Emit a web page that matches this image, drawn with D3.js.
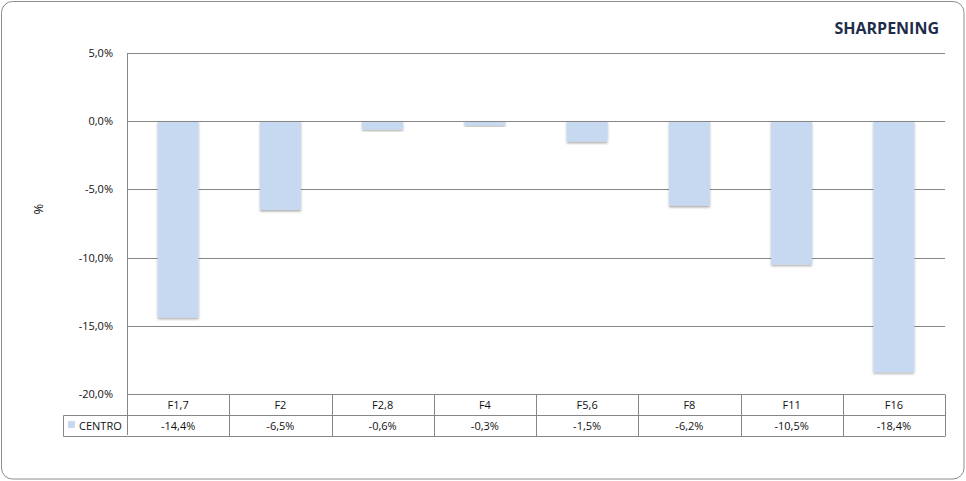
<!DOCTYPE html>
<html><head><meta charset="utf-8">
<script src="https://cdn.jsdelivr.net/npm/d3@7"></script>
<style>
html,body{margin:0;padding:0;background:#fff;}
text{font-family:"Open Sans",sans-serif;}
</style></head>
<body>
<svg id="c" width="966" height="481"></svg>
<script>
const categories = ["F1,7","F2","F2,8","F4","F5,6","F8","F11","F16"];
const seriesName = "CENTRO";
const values = [-14.4,-6.5,-0.6,-0.3,-1.5,-6.2,-10.5,-18.4];
const yTicks = [5,0,-5,-10,-15,-20];
const title = "SHARPENING";
const axisTitle = "%";

const fmt = v => d3.format(".1f")(v).replace(".", ",").replace("−","-") + "%";

const svg = d3.select("#c");
const W = 966, H = 481;
const plotL = 127, plotR = 945, plotT = 53, plotB = 394;
const rowH = 20.5, legendL = 63;
const barColor = "#C6D9F1", gridColor = "#868686", textColor = "#111";

const defs = svg.append("defs");
const f = defs.append("filter").attr("id","sh").attr("x","-20%").attr("y","-20%").attr("width","140%").attr("height","140%");
f.append("feDropShadow").attr("dx",0).attr("dy",1.5).attr("stdDeviation",0.8).attr("flood-color","#000").attr("flood-opacity",0.35);

// outer border
svg.append("rect").attr("x",1.5).attr("y",1.5).attr("width",W-3.5).attr("height",H-3.5)
  .attr("rx",11).attr("ry",11).attr("fill","#fff").attr("stroke","#8c8c8c").attr("stroke-width",1);

const x = d3.scaleBand().domain(categories).range([plotL, plotR]).padding(0);
const y = d3.scaleLinear().domain([-20,5]).range([plotB, plotT]);

// gridlines
svg.append("g").selectAll("line").data(yTicks).join("line")
  .attr("x1",plotL).attr("x2",plotR)
  .attr("y1",d=>Math.round(y(d))+0.5).attr("y2",d=>Math.round(y(d))+0.5)
  .attr("stroke",gridColor).attr("stroke-width",1);

// y tick labels
svg.append("g").selectAll("text").data(yTicks).join("text")
  .attr("x",113).attr("y",d=>y(d)+4)
  .attr("text-anchor","end").attr("font-size",11).attr("fill",textColor)
  .text(d=>fmt(d));

// axis title
svg.append("text").attr("transform","translate(42.5,209) rotate(-90)")
  .attr("text-anchor","middle").attr("font-size",13).attr("fill",textColor).text(axisTitle);

// bars
const bw = x.bandwidth()*0.4;
svg.append("g").selectAll("rect").data(values).join("rect")
  .attr("x",(d,i)=>x(categories[i]) + x.bandwidth()/2 - bw/2)
  .attr("y",d=>y(Math.max(0,d)))
  .attr("width",bw)
  .attr("height",d=>Math.abs(y(d)-y(0)))
  .attr("fill",barColor).attr("filter","url(#sh)");

// redraw zero line on top
svg.append("line").attr("x1",plotL).attr("x2",plotR)
  .attr("y1",Math.round(y(0))+0.5).attr("y2",Math.round(y(0))+0.5)
  .attr("stroke",gridColor);

// left axis line (plot + table)
svg.append("line").attr("x1",plotL+0.5).attr("x2",plotL+0.5)
  .attr("y1",plotT).attr("y2",plotB+2*rowH).attr("stroke",gridColor);

// table
const tY0 = Math.round(plotB)+0.5, tY1 = tY0+rowH, tY2 = tY0+2*rowH;
const tg = svg.append("g");
tg.append("line").attr("x1",legendL+0.5).attr("x2",plotR).attr("y1",Math.round(tY1)+0.5).attr("y2",Math.round(tY1)+0.5).attr("stroke",gridColor);
tg.append("line").attr("x1",legendL+0.5).attr("x2",plotR).attr("y1",Math.round(tY2)+0.5).attr("y2",Math.round(tY2)+0.5).attr("stroke",gridColor);
tg.append("line").attr("x1",legendL+0.5).attr("x2",legendL+0.5).attr("y1",Math.round(tY1)+0.5).attr("y2",Math.round(tY2)+0.5).attr("stroke",gridColor);
tg.selectAll("line.v").data(categories).join("line").attr("class","v")
  .attr("x1",d=>Math.round(x(d)+x.bandwidth())+0.5).attr("x2",d=>Math.round(x(d)+x.bandwidth())+0.5)
  .attr("y1",tY0).attr("y2",Math.round(tY2)+0.5).attr("stroke",gridColor);
tg.selectAll("text.h").data(categories).join("text").attr("class","h")
  .attr("x",d=>x(d)+x.bandwidth()/2).attr("y",tY0+14.5)
  .attr("text-anchor","middle").attr("font-size",11).attr("fill",textColor).text(d=>d);
tg.selectAll("text.v").data(values).join("text").attr("class","v")
  .attr("x",(d,i)=>x(categories[i])+x.bandwidth()/2).attr("y",tY1+15)
  .attr("text-anchor","middle").attr("font-size",11).attr("fill",textColor).text(d=>fmt(d));
// legend key
tg.append("rect").attr("x",68).attr("y",tY1+6).attr("width",7).attr("height",7).attr("fill",barColor);
tg.append("text").attr("x",79).attr("y",tY1+15).attr("font-size",11).attr("fill",textColor).text(seriesName);

// title
svg.append("text").attr("x",939).attr("y",34).attr("text-anchor","end")
  .attr("font-size",16).attr("font-weight","bold").attr("fill","#1F2D4A").text(title);
</script>
</body></html>
